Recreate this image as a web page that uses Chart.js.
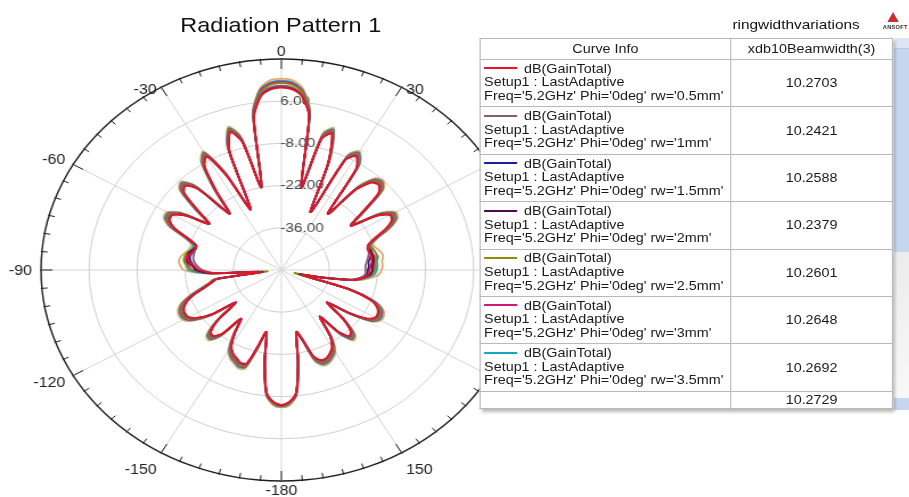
<!DOCTYPE html>
<html>
<head>
<meta charset="utf-8">
<script src="https://cdn.jsdelivr.net/npm/chart.js@4.4.1/dist/chart.umd.min.js"></script>
<style>
  html, body { margin: 0; padding: 0; background: #fff; overflow: hidden; }
  body { width: 909px; height: 497px; position: relative; }
  #page {
    position: absolute; left: 0; top: 0; width: 798px; height: 497px;
    transform: scaleX(1.1391); transform-origin: 0 0;
    font-family: Arial, "Liberation Sans", sans-serif; color: #1a1a1a;
  }
  #polar { position: absolute; left: 0; top: 0; }
  #title { position: absolute; left: 0; top: 14px; width: 493px; text-align: center;
           font-size: 20.6px; line-height: 22px; color: #111; }
  #plotname { position: absolute; left: 643px; top: 17px; font-size: 13.5px; line-height: 16px; color: #111; }
  #logo-tri { position: absolute; left: 779px; top: 12px; width: 0; height: 0;
              border-left: 5px solid transparent; border-right: 5px solid transparent;
              border-bottom: 10px solid #c83030; }
  #logo-txt { position: absolute; left: 775px; top: 24px; font-size: 5px; font-weight: bold; color: #333;
              letter-spacing: 0.2px; white-space: nowrap; }
  #strip-a { position: absolute; left: 785px; top: 38px; width: 14px; height: 10px; background: #dbe5f3; }
  #strip-b { position: absolute; left: 785px; top: 48px; width: 14px; height: 204px; background: #c6d6ee;
             border-top: 1px solid #b9c9e2; }
  #strip-c { position: absolute; left: 785px; top: 252px; width: 14px; height: 146px;
             background: linear-gradient(#ececec, #f8f8f8); }
  #strip-d { position: absolute; left: 785px; top: 398px; width: 14px; height: 12px; background: #c6d6ee; }
  #info {
    position: absolute; left: 421px; top: 38px; width: 362px;
    border-collapse: collapse; border: 1.5px solid #2e2e2e; background: #fff;
    font-size: 12.6px; box-shadow: 2px 3px 3px rgba(0,0,0,0.28); table-layout: fixed;
  }
  #info th, #info td { border: 1px solid #b8b8b8; padding: 0; font-weight: normal; }
  #info th { height: 20px; text-align: center; vertical-align: middle; }
  #info td.ci { padding-left: 3px; line-height: 13.6px; vertical-align: middle; white-space: nowrap; }
  #info td.val { text-align: center; vertical-align: middle; }
  #info tr.row { height: 47.4px; }
  #info tr.last { height: 17px; }
  .sw { display: inline-block; width: 29px; height: 2px; vertical-align: middle; margin-right: 6px;
        position: relative; top: -1px; }
</style>
</head>
<body>
<div id="page">
  <canvas id="polar" width="500" height="497"></canvas>
  <div id="title">Radiation Pattern 1</div>
  <div id="plotname">ringwidthvariations</div>
  <div id="logo-tri"></div>
  <div id="logo-txt">ANSOFT</div>
  <div id="strip-a"></div><div id="strip-b"></div><div id="strip-c"></div><div id="strip-d"></div>
  <table id="info">
    <colgroup><col style="width:220px"><col style="width:142px"></colgroup>
    <thead><tr><th>Curve Info</th><th>xdb10Beamwidth(3)</th></tr></thead>
    <tbody></tbody>
  </table>
</div>
<script>
// Theta sweep, 3 degree steps clockwise from boresight (0 at top).
const THETA_STEP = 3;
const THETA = [];
for (let a = 0; a < 360; a += THETA_STEP) THETA.push(a <= 180 ? a : a - 360);

// Angle axis labels every 30 degrees, clockwise from the top.
const ANGLE_LABELS = ['0', '30', '60', '90', '120', '150', '-180', '-150', '-120', '-90', '-60', '-30'];
// Radial (dB) axis.
const R_MIN = -50, R_MAX = 20, R_STEP = 14;
const RADIAL_LABELS = [6, -8, -22, -36];

// dB(GainTotal) per theta, one array per ring width (rw).
const gain_rw05 = [
  10.5, 10.0, 7.8, 1.5, -22, -5, -2.5, -12, -29, -9, -6.5, -10,
  -27, -16, -11, -10, -12, -20, -25, -17, -13.5, -14, -17, -21,
  -23.5, -24, -23.5, -23.5, -23.5, -24, -24.3, -24.5, -26, -29, -38, -44,
  -29, -22, -19.5, -18.5, -18.5, -20.5, -26, -33, -26, -21.5, -20.5, -23.5,
  -31, -24, -20.5, -19, -18, -18, -20, -26, -29, -19, -9, -6.2,
  -5.2, -6.2, -9, -19, -29, -24, -17.5, -17, -18, -19, -21, -25,
  -30, -23, -20.5, -21, -25, -33, -25, -21, -18.8, -18.5, -19, -20.5,
  -23, -26.5, -29, -31, -44, -30, -26, -24.5, -23, -22.5, -23, -24,
  -24, -21, -16, -13.5, -13.5, -17, -24, -19, -12, -10.5, -14, -26,
  -18, -9, -6.5, -15, -28, -8, -2, -6, -22, 1.0, 7.8, 10.0
];
const gain_rw10 = [
  11.2, 10.7, 8.5, 2.1, -22, -4.4, -1.9, -11.5, -29, -8.4, -5.9, -9.4,
  -27, -15.4, -10.4, -9.4, -11.4, -19.4, -25, -16.4, -12.9, -13.4, -16.4, -20.7,
  -23.2, -23.7, -24, -24.5, -25, -25.5, -25.5, -25.5, -26.5, -29, -38, -44,
  -29, -21.7, -18.9, -17.9, -17.9, -19.9, -26, -33, -26, -20.9, -19.9, -23.2,
  -31, -23.7, -19.9, -18.4, -17.4, -17.4, -19.4, -26, -29, -18.9, -8.8, -6.0,
  -5.0, -6.0, -8.8, -18.9, -29, -23.7, -16.9, -16.4, -17.4, -18.4, -20.4, -25,
  -30, -22.7, -19.9, -20.4, -25, -33, -25, -20.4, -18.2, -17.9, -18.4, -19.9,
  -22.7, -26.5, -29, -31, -44, -30.5, -27, -25.5, -24.5, -24, -24, -24,
  -23.7, -20.7, -15.4, -12.9, -12.9, -16.4, -24, -18.4, -11.4, -9.9, -13.4, -26,
  -17.4, -8.4, -5.9, -14.4, -28, -7.4, -1.4, -5.4, -22, 1.7, 8.5, 10.7
];
const gain_rw15 = [
  11.0, 10.5, 8.3, 1.9, -22, -4.6, -2.1, -11.7, -29, -8.6, -6.1, -9.6,
  -27, -15.6, -10.6, -9.6, -11.6, -19.6, -25, -16.6, -13.1, -13.6, -16.6, -20.8,
  -23.3, -23.8, -23.3, -23.8, -24.5, -24.5, -24.8, -25, -26.5, -29.5, -38.5, -44.5,
  -29, -21.8, -19.1, -18.1, -18.1, -20.1, -26, -33, -26, -21.1, -20.1, -23.3,
  -31, -23.8, -20.1, -18.6, -17.6, -17.6, -19.6, -26, -29, -19, -8.9, -6.1,
  -5.1, -6.1, -8.9, -19, -29, -23.8, -17.1, -16.6, -17.6, -18.6, -20.6, -25,
  -30, -22.8, -20.1, -20.6, -25, -33, -25, -20.6, -18.4, -18.1, -18.6, -20.1,
  -22.8, -26.3, -29, -31, -44.5, -30, -25.5, -24.5, -23.5, -23, -23.3, -24,
  -23.8, -20.8, -15.6, -13.1, -13.1, -16.6, -24, -18.6, -11.6, -10.1, -13.6, -26,
  -17.6, -8.6, -6.1, -14.6, -28, -7.6, -1.6, -5.6, -22, 1.5, 8.3, 10.5
];
const gain_rw20 = [
  10.8, 10.3, 8.1, 1.7, -22, -4.8, -2.3, -11.8, -29, -8.8, -6.3, -9.8,
  -27, -15.8, -10.8, -9.8, -11.8, -19.8, -25, -16.8, -13.3, -13.8, -16.8, -20.9,
  -23.4, -23.5, -23, -23, -23, -23.5, -23.5, -24, -26, -29, -38, -44,
  -29, -21.9, -19.3, -18.3, -18.3, -20.3, -26, -33, -26, -21.3, -20.3, -23.4,
  -31, -23.9, -20.3, -18.8, -17.8, -17.8, -19.8, -26, -29, -19, -9, -6.1,
  -5.1, -6.1, -9, -19, -29, -23.9, -17.3, -16.8, -17.8, -18.8, -20.8, -25,
  -30, -22.9, -20.3, -20.8, -25, -33, -25, -20.8, -18.6, -18.3, -18.8, -20.3,
  -22.9, -26.4, -29, -31, -44, -29.5, -25, -24, -22.5, -22.5, -22.5, -23.5,
  -23.9, -20.9, -15.8, -13.3, -13.3, -16.8, -24, -18.8, -11.8, -10.3, -13.8, -26,
  -17.8, -8.8, -6.3, -14.8, -28, -7.8, -1.8, -5.8, -22, 1.3, 8.1, 10.3
];
const gain_rw25 = [
  12.0, 11.5, 9.2, 2.5, -21.5, -4, -1.5, -11, -29, -8, -5.5, -9,
  -27, -15, -10, -9, -11, -19, -24.5, -16, -12.5, -13, -16, -20.5,
  -23, -22.5, -22, -22, -22.5, -22.5, -22.8, -23.5, -25.5, -29, -39, -46,
  -28.5, -21.5, -18.5, -17.5, -17.5, -19.5, -25.5, -32.5, -25.5, -20.5, -19.5, -23,
  -30.5, -23.5, -19.5, -18, -17, -17, -19, -25.5, -28.8, -18.8, -8.6, -5.8,
  -4.9, -5.8, -8.6, -18.8, -28.8, -23.5, -16.5, -16, -17, -18, -20, -24.5,
  -29.5, -22.5, -19.5, -20, -24.5, -32.5, -24.5, -20, -17.8, -17.5, -18, -19.5,
  -22.5, -26, -28.5, -31, -46, -29.5, -24, -22.5, -21.5, -21.5, -22, -23.5,
  -23.5, -20.5, -15, -12.5, -12.5, -16, -23.5, -18, -11, -9.5, -13, -25.5,
  -17, -8, -5.5, -14, -27.5, -7, -1, -5, -21.5, 2.3, 9.2, 11.5
];
const gain_rw30 = [
  12.4, 11.9, 9.5, 2.7, -21.5, -3.8, -1.3, -11, -29, -7.8, -5.3, -8.8,
  -27, -15, -9.8, -8.8, -10.8, -19, -24.5, -15.8, -12.3, -12.8, -15.8, -20.5,
  -23, -23, -23, -22.5, -23, -23, -23.3, -23.5, -25.5, -28.5, -38, -44,
  -28.5, -21.5, -18.3, -17.3, -17.3, -19.3, -25.5, -32.5, -25.5, -20.3, -19.3, -23,
  -30.5, -23.3, -19.3, -17.8, -16.8, -16.8, -18.8, -25.5, -28.8, -18.8, -8.5, -5.7,
  -4.8, -5.7, -8.5, -18.8, -28.8, -23.3, -16.3, -15.8, -16.8, -17.8, -19.8, -24.5,
  -29.5, -22.3, -19.3, -19.8, -24.5, -32.5, -24.5, -19.8, -17.6, -17.3, -17.8, -19.3,
  -22.3, -26, -28.5, -30.5, -44, -29, -24, -23, -22, -22, -22.5, -23.5,
  -23.5, -20.3, -14.8, -12.3, -12.3, -15.8, -23.5, -17.8, -10.8, -9.3, -12.8, -25.5,
  -16.8, -7.8, -5.3, -13.8, -27.5, -6.8, -0.8, -4.8, -21.5, 2.5, 9.6, 11.9
];
const gain_rw35 = [
  12.8, 12.3, 9.9, 3.0, -21.5, -3.5, -1.0, -10.5, -29, -7.5, -5, -8.5,
  -27, -14.5, -9.5, -8.5, -10.5, -18.5, -24.5, -15.5, -12, -12.5, -15.5, -20,
  -22.5, -22.5, -22, -21.5, -22, -22, -22.3, -22.8, -25, -28.5, -37.5, -43.5,
  -28.5, -21, -18, -17, -17, -19, -25.5, -32.5, -25.5, -20, -19, -22.5,
  -30.5, -23, -19, -17.5, -16.5, -16.5, -18.5, -25.5, -28.5, -18.5, -8.3, -5.5,
  -4.7, -5.5, -8.3, -18.5, -28.5, -23, -16, -15.5, -16.5, -17.5, -19.5, -24.5,
  -29.5, -22, -19, -19.5, -24.5, -32.5, -24.5, -19.5, -17.3, -17, -17.5, -19,
  -22, -25.5, -28.5, -30.5, -43.5, -28.5, -23, -22.3, -21.5, -21.5, -22, -23,
  -23, -20, -14.5, -12, -12, -15.5, -23.5, -17.5, -10.5, -9, -12.5, -25.5,
  -16.5, -7.5, -5, -13.5, -27.5, -6.5, -0.5, -4.5, -21.5, 2.8, 10.0, 12.3
];
const gain_last = [
  13.5, 13.0, 10.5, 3.5, -21, -3, -0.5, -10, -29, -7, -4.5, -8,
  -27, -14, -9, -8, -10, -18, -24, -15, -11.5, -12, -15, -19.5,
  -22, -21.5, -20.5, -20, -20.5, -20.5, -20.8, -21.5, -24, -28, -37, -43,
  -28, -20.5, -17.5, -16.5, -16.5, -18.5, -25, -32, -25, -19.5, -18.5, -22,
  -30, -22.5, -18.5, -17, -16, -16, -18, -25, -28.5, -18, -8, -5,
  -4.4, -5, -8, -18, -28.5, -22.5, -15.5, -15, -16, -17, -19, -24,
  -29, -21.5, -18.5, -19, -24, -32, -24, -19, -16.8, -16.5, -17, -18.5,
  -21.5, -25, -28, -30, -43, -28, -21.5, -20.5, -20, -20.5, -21.5, -22.5,
  -22.5, -19.5, -14, -11.5, -11.5, -15, -23, -17, -10, -8.5, -12, -25,
  -16, -7, -4.5, -13, -27, -6, 0, -4, -21, 3.0, 10.5, 13.0
];

// Curve-info table entries (ring width) and the xdb10Beamwidth(3) column.
const SERIES_RW = ['0.5mm', '1mm', '1.5mm', '2mm', '2.5mm', '3mm', '3.5mm', null];
const BEAMWIDTH = [10.2703, 10.2421, 10.2588, 10.2379, 10.2601, 10.2648, 10.2692, 10.2729];
const SERIES_DATA = [gain_rw05, gain_rw10, gain_rw15, gain_rw20, gain_rw25, gain_rw30, gain_rw35, gain_last];

const LINE_COLORS = ['#e8141f', '#8a5a70', '#1c1ca8', '#4a0a52', '#8c8c00', '#d4157a', '#19a3c4', '#e8a86a'];
const FONT = 'Arial, "Liberation Sans", sans-serif';
// vertical nudge of the angle labels, keyed by |angle|
const ANGLE_LABEL_DY = { 0: 1, 30: 10, 60: 0, 90: 1, 120: 4, 150: 10, 180: 2 };

// Rim ticks, radial labels and angle labels, drawn under the curves.
const polarDecor = {
  id: 'polarDecor',
  beforeDatasetsDraw(chart) {
    const s = chart.scales.r;
    const ctx = chart.ctx;
    const R = s.drawingArea, cx = s.xCenter, cy = s.yCenter;
    ctx.save();
    ctx.strokeStyle = '#1e1e1e';
    ctx.lineWidth = 1;
    for (let d = 0; d < 360; d += 5) {
      const a = d * Math.PI / 180 - Math.PI / 2;
      const len = d % 30 === 0 ? 10 : 5;
      ctx.beginPath();
      ctx.moveTo(cx + Math.cos(a) * (R + 1), cy + Math.sin(a) * (R + 1));
      ctx.lineTo(cx + Math.cos(a) * (R - len), cy + Math.sin(a) * (R - len));
      ctx.stroke();
    }
    ctx.font = '13.5px ' + FONT;
    ctx.fillStyle = '#4a4a4a';
    ctx.textAlign = 'left';
    ctx.textBaseline = 'middle';
    RADIAL_LABELS.forEach(v => {
      const dist = s.getDistanceFromCenterForValue(v);
      ctx.fillText(v.toFixed(2), cx - 1, cy - dist);
    });
    ctx.font = '14px ' + FONT;
    ctx.fillStyle = '#222';
    const per = THETA.length / ANGLE_LABELS.length;
    ANGLE_LABELS.forEach((txt, k) => {
      const p = s.getPointPosition(k * per, R + 8);
      const dx = p.x - cx;
      ctx.textAlign = Math.abs(dx) < 2 ? 'center' : (dx > 0 ? 'left' : 'right');
      ctx.textBaseline = 'middle';
      const dy = ANGLE_LABEL_DY[Math.abs(parseInt(txt, 10))] || 0;
      ctx.fillText(txt, p.x, p.y + dy);
    });
    ctx.restore();
  }
};

new Chart(document.getElementById('polar'), {
  type: 'radar',
  data: {
    labels: THETA.map(String),
    datasets: SERIES_DATA.map((arr, i) => ({
      label: SERIES_RW[i] ? "dB(GainTotal) rw='" + SERIES_RW[i] + "'" : '',
      data: arr,
      borderColor: LINE_COLORS[i],
      backgroundColor: 'transparent',
      borderWidth: 1.8,
      fill: false,
      pointRadius: 0,
      tension: 0.25
    }))
  },
  options: {
    responsive: false,
    animation: false,
    layout: { padding: { left: 36, top: 59, right: 42, bottom: 16 } },
    plugins: { legend: { display: false }, tooltip: { enabled: false } },
    scales: {
      r: {
        min: R_MIN, max: R_MAX,
        ticks: { stepSize: R_STEP, display: false },
        pointLabels: { display: false },
        grid: {
          circular: true,
          color: ctx => ctx.tick && ctx.tick.value === R_MAX ? '#1e1e1e' : '#cfcfcf',
          lineWidth: ctx => ctx.tick && ctx.tick.value === R_MAX ? 1.4 : 1
        },
        angleLines: {
          color: '#d4d4d4',
          lineWidth: ctx => (ctx.index % (THETA.length / ANGLE_LABELS.length) === 0 ? 1 : 0)
        }
      }
    }
  },
  plugins: [polarDecor]
});

// Curve info table
const tbody = document.querySelector('#info tbody');
SERIES_RW.forEach((rw, i) => {
  const tr = document.createElement('tr');
  tr.className = rw ? 'row' : 'last';
  const c1 = document.createElement('td');
  c1.className = 'ci';
  if (rw) {
    c1.innerHTML = '<div><span class="sw" style="background:' + LINE_COLORS[i] + '"></span>dB(GainTotal)</div>' +
      '<div>Setup1 : LastAdaptive</div>' +
      "<div>Freq='5.2GHz' Phi='0deg' rw='" + rw + "'</div>";
  }
  const c2 = document.createElement('td');
  c2.className = 'val';
  c2.textContent = BEAMWIDTH[i].toFixed(4);
  tr.appendChild(c1);
  tr.appendChild(c2);
  tbody.appendChild(tr);
});
</script>
</body>
</html>
